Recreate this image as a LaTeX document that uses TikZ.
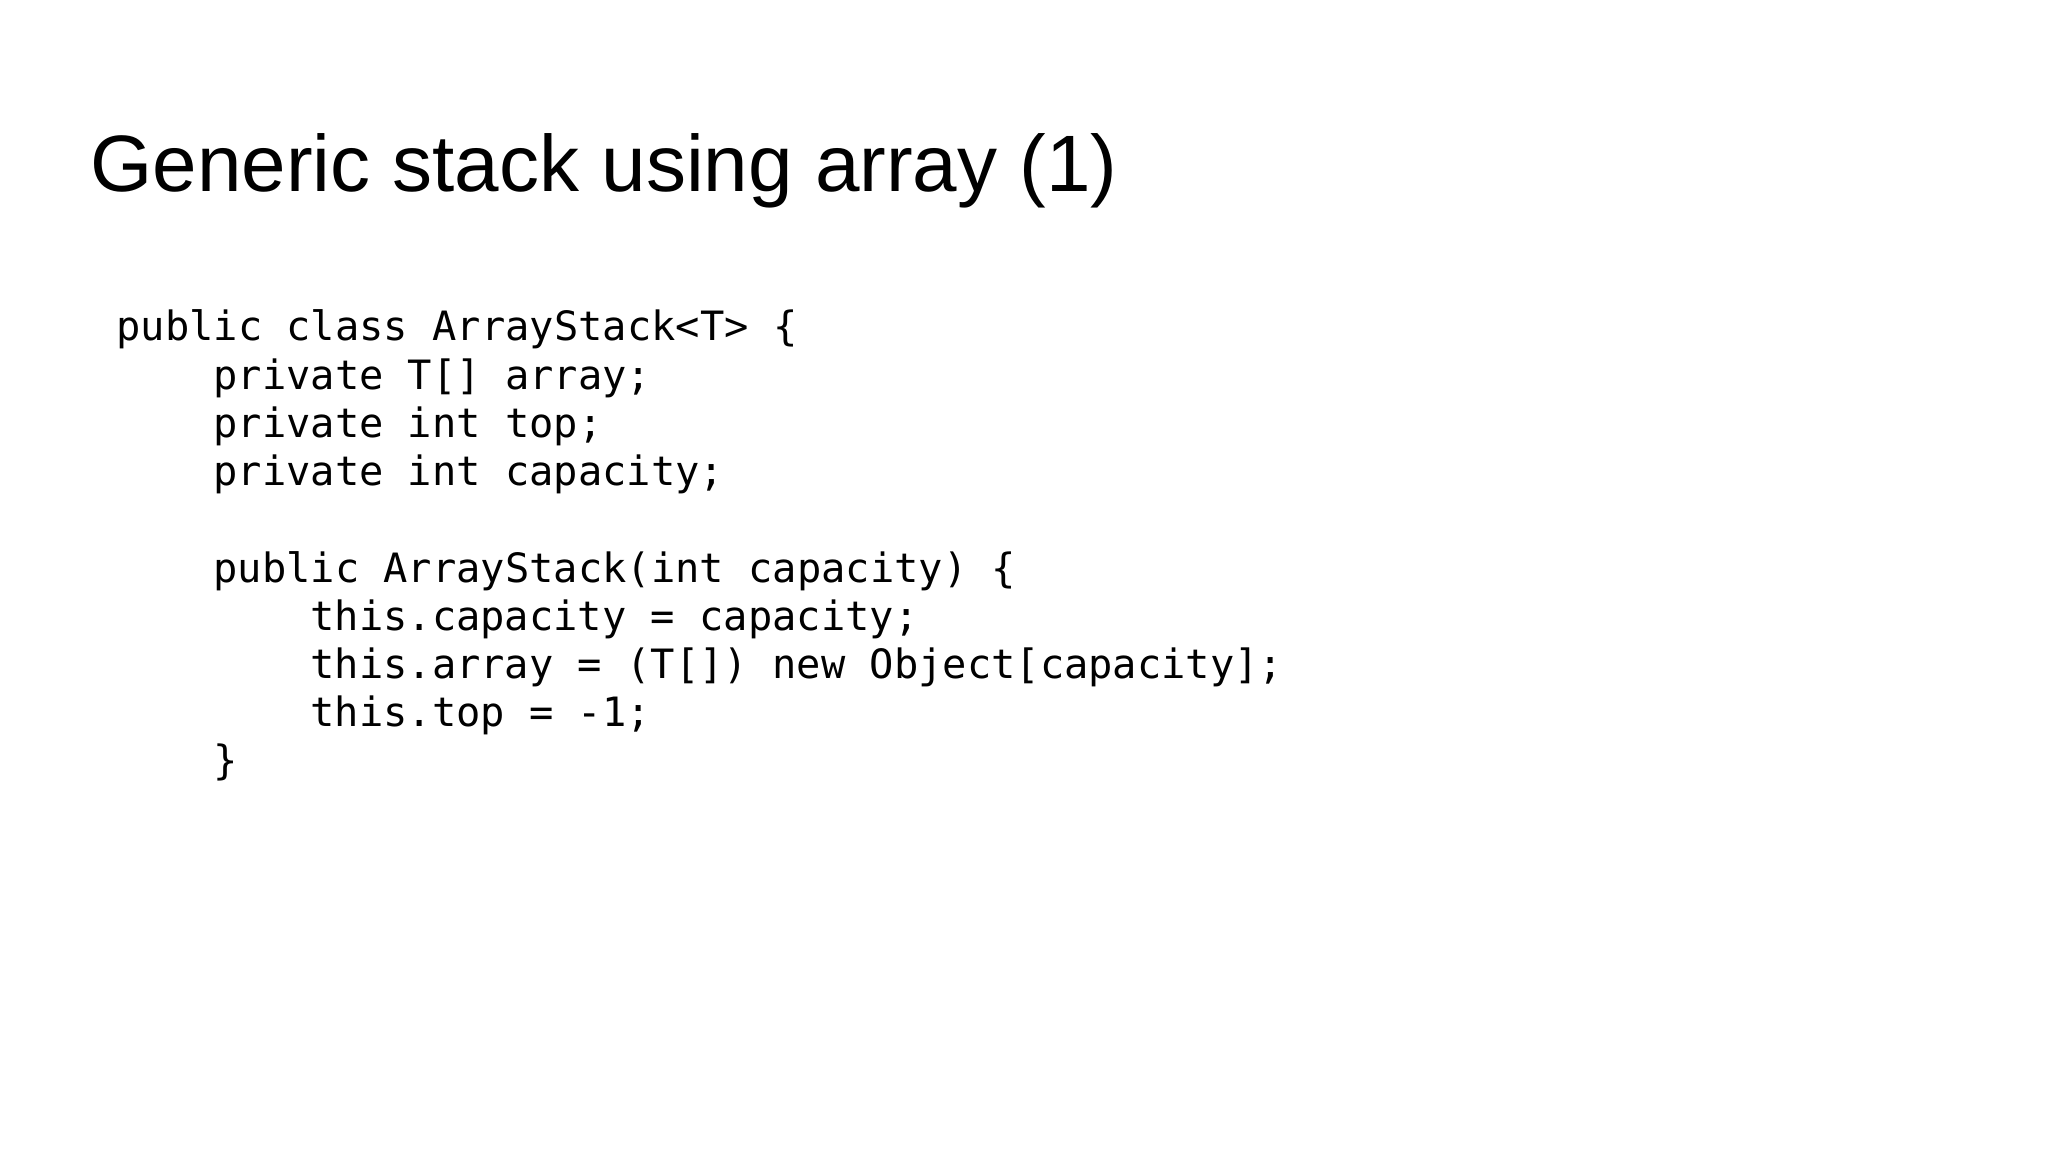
\documentclass[tikz,border=0pt]{standalone}
\usepackage{fontspec}
\setmainfont{Liberation Sans}
\setmonofont{DejaVu Sans Mono}
\begin{document}
\begin{tikzpicture}[x=0.5pt,y=-0.5pt,
  code/.style={anchor=base west,inner sep=0pt,font=\fontsize{20.2}{24}\ttfamily}]
\useasboundingbox (0,0) rectangle (2048,1152);
\node[anchor=base west,inner sep=0pt,font=\fontsize{40}{48}\selectfont] (title) at (90,191) {Generic stack using array (1)};
\def\ind{24.2}
\node[code] (l1) at (116,340) {public class ArrayStack<T> \{};
\node[code] (l2) at (213,389) {private T[] array;};
\node[code] (l3) at (213,437) {private int top;};
\node[code] (l4) at (213,485) {private int capacity;};
\node[code] (l5) at (213,582) {public ArrayStack(int capacity) \{};
\node[code] (l6) at (310,630) {this.capacity = capacity;};
\node[code] (l7) at (310,678) {this.array = (T[]) new Object[capacity];};
\node[code] (l8) at (310,726) {this.top = -1;};
\node[code] (l9) at (213,774) {\}};
\end{tikzpicture}
\end{document}
